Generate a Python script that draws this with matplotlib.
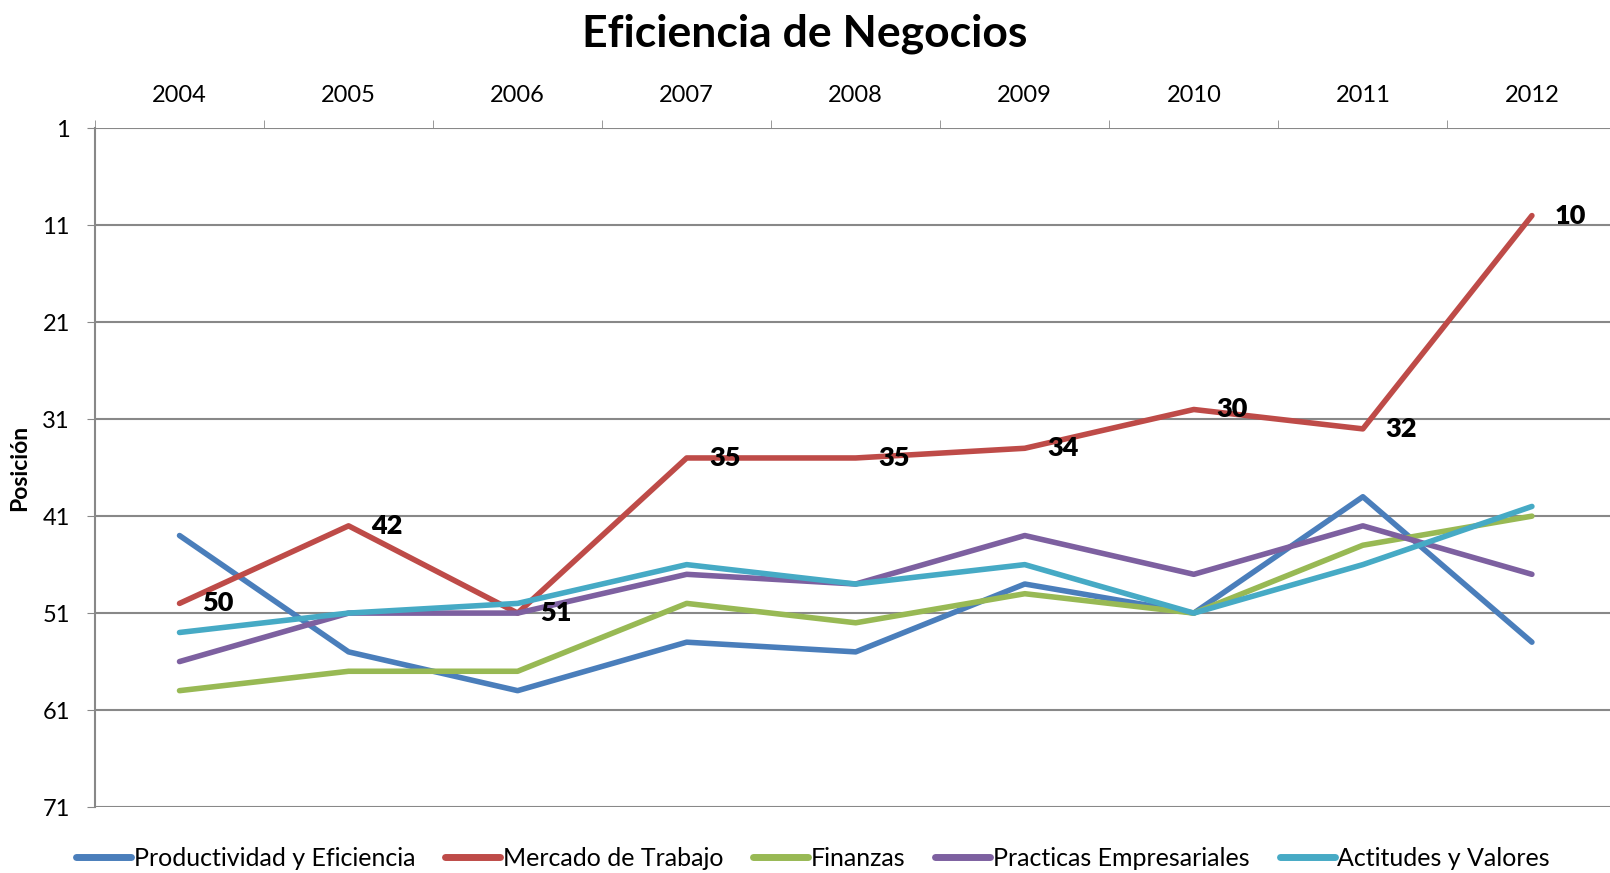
import matplotlib
matplotlib.use("Agg")
import matplotlib.pyplot as plt

plt.rcParams['font.family'] = ['Lato', 'DejaVu Sans']

years = ["2004", "2005", "2006", "2007", "2008", "2009", "2010", "2011", "2012"]
productividad = [43, 55, 59, 54, 55, 48, 51, 39, 54]
mercado = [50, 42, 51, 35, 35, 34, 30, 32, 10]
finanzas = [59, 57, 57, 50, 52, 49, 51, 44, 41]
practicas = [56, 51, 51, 47, 48, 43, 47, 42, 47]
actitudes = [53, 51, 50, 46, 48, 46, 51, 46, 40]

series = [
    ("Productividad y Eficiencia", productividad, "#4A7EBB"),
    ("Mercado de Trabajo", mercado, "#BE4B48"),
    ("Finanzas", finanzas, "#98B954"),
    ("Practicas Empresariales", practicas, "#7D60A0"),
    ("Actitudes y Valores", actitudes, "#46AAC5"),
]

fig = plt.figure(figsize=(16.1, 8.73), dpi=100)
ax = fig.add_axes([0.059, 0.0756, 0.945, 0.7774])

x = list(range(len(years)))
for name, vals, col in series:
    ax.plot(x, vals, color=col, lw=4, label=name, solid_capstyle="round",
            solid_joinstyle="round")

# data labels for Mercado de Trabajo
for xi, v in zip(x, mercado):
    ax.annotate(str(v), (xi, v), xytext=(16, 0), textcoords="offset points",
                ha="left", va="center", fontsize=19.5, fontweight="heavy")

ax.set_xlim(-0.5, len(years) - 0.5)
ax.set_ylim(71, 1)
ax.set_yticks(range(1, 72, 10))
ax.tick_params(axis="y", labelsize=17, length=6, color="#888888", pad=12)
ax.yaxis.grid(True, color="#888888", lw=1.5)
ax.set_axisbelow(True)

ax.xaxis.tick_top()
ax.set_xticks(x)
ax.set_xticklabels(years)
ax.set_xticks([i + 0.5 for i in x[:-1]] + [-0.5], minor=True)
ax.tick_params(axis="x", which="major", length=0, labelsize=17, pad=16)
ax.tick_params(axis="x", which="minor", length=6, color="#888888", direction="out")

for s in ["right", "bottom", "top"]:
    ax.spines[s].set_visible(False)
ax.spines["left"].set_color("#888888")
ax.spines["left"].set_linewidth(1.5)

ax.set_ylabel("Posición", fontsize=16.5, fontweight="bold", labelpad=9)

fig.suptitle("Eficiencia de Negocios", fontsize=32, fontweight="bold", y=0.985)

leg = fig.legend(loc="lower center", bbox_to_anchor=(0.505, -0.022), ncol=5,
                 frameon=False, fontsize=18, handlelength=2.2, handletextpad=0.1,
                 columnspacing=1.2)
for h in leg.get_lines():
    h.set_linewidth(5)

fig.savefig("out.png", dpi=100)
